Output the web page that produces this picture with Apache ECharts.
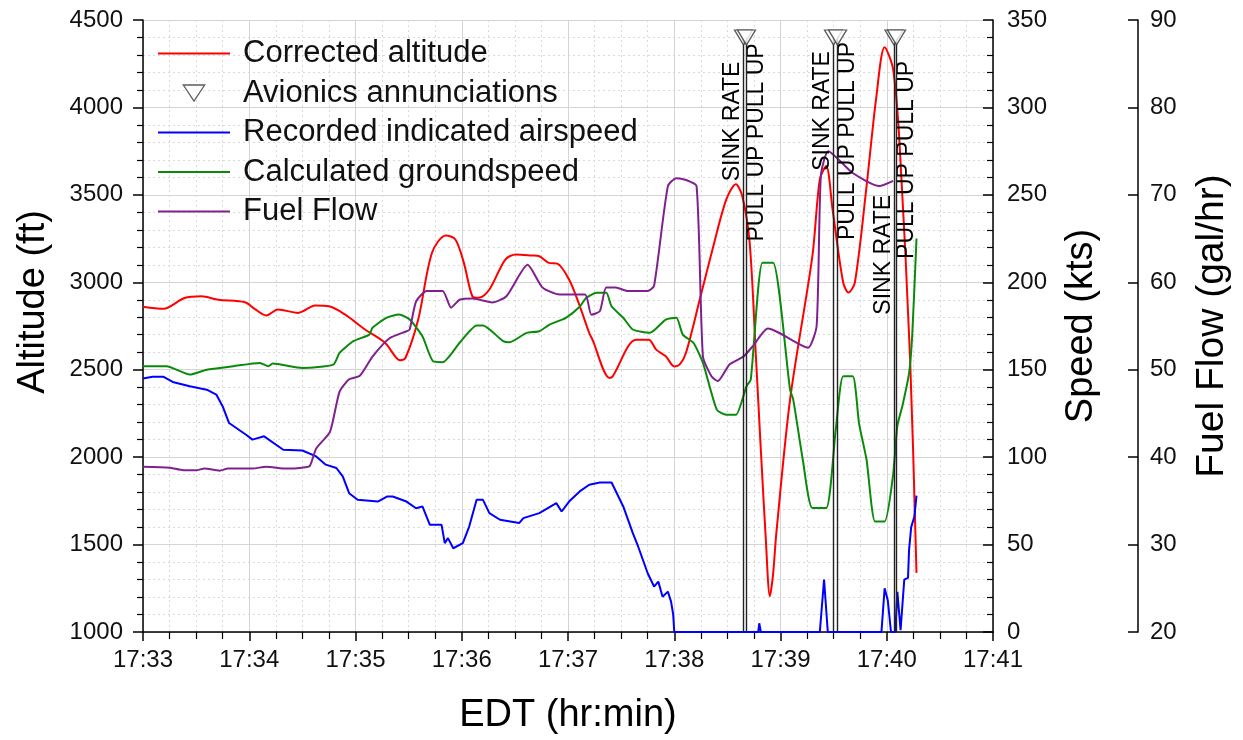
<!DOCTYPE html>
<html>
<head>
<meta charset="utf-8">
<title>Flight data</title>
<script src="https://cdn.jsdelivr.net/npm/echarts@6/dist/echarts.min.js"></script>
<style>
  html, body { margin: 0; padding: 0; background: #fff; }
  #chart { width: 1243px; height: 740px; }
</style>
</head>
<body>
<div id="chart"></div>
<script>
// all times are minutes after 17:00 EDT
// corrected altitude (ft)
const altTime = [33.00,33.19,33.39,33.55,33.71,33.96,34.05,34.16,34.27,34.46,34.62,34.75,34.90,35.09,35.28,35.42,35.47,35.59,35.72,35.85,35.94,36.02,36.10,36.16,36.26,36.41,36.51,36.66,36.73,36.82,36.90,37.01,37.10,37.20,37.23,37.39,37.42,37.64,37.76,37.83,37.92,38.00,38.05,38.11,38.24,38.36,38.49,38.58,38.64,38.71,38.77,38.79,38.82,38.86,38.90,38.93,38.96,39.09,39.30,39.37,39.43,39.49,39.59,39.64,39.70,39.81,39.90,39.98,40.06,40.12,40.22,40.28]
const altValue = [2860,2848,2910,2920,2900,2886,2848,2810,2845,2825,2867,2863,2816,2730,2653,2554,2567,2787,3169,3268,3245,3111,2920,2911,2959,3130,3159,3153,3149,3111,3107,3016,2882,2710,2672,2453,2462,2672,2672,2615,2577,2519,2529,2596,2901,3188,3474,3560,3493,3226,2558,2329,1985,1550,1205,1330,1560,2329,3150,3589,3665,3417,2999,2941,2999,3550,4050,4344,4218,3800,2558,1338]

// recorded indicated airspeed (kts)
const iasTime = [33.00,33.09,33.19,33.28,33.44,33.60,33.69,33.75,33.81,33.97,34.03,34.14,34.32,34.50,34.63,34.72,34.82,34.88,34.94,35.02,35.21,35.30,35.35,35.48,35.57,35.63,35.70,35.81,35.84,35.87,35.92,36.01,36.07,36.14,36.20,36.26,36.36,36.54,36.58,36.73,36.89,36.94,37.01,37.11,37.20,37.30,37.41,37.52,37.61,37.66,37.75,37.81,37.85,37.89,37.94,37.97,37.99,38.00,38.79,38.80,38.815,39.37,39.41,39.445,39.95,39.98,40.01,40.04,40.08,40.10,40.13,40.165,40.20,40.21,40.23,40.26,40.28]
const iasValue = [145,146,146,143,140.5,138.6,135.8,129,119.5,112.8,110,111.9,104.2,103.8,100.4,95.7,93.8,89,79.4,75.6,74.6,77.5,77.5,74.6,70.8,71.8,61.3,61.3,50.8,53.7,47.9,50.8,60.3,75.6,75.6,68,64.2,62.3,65.1,68,73.7,68.9,74.6,80.4,84.2,85.5,85.5,71.8,56.5,48.9,33.6,26,28.8,20.2,23.1,17.4,10,0,0,5,0,0,30,0,0,25,18,0,0,23,1,30,31,47,60,66,78]

// calculated groundspeed (kts)
const gsTime = [33.00,33.22,33.44,33.60,33.85,34.10,34.18,34.22,34.50,34.79,34.85,34.98,35.13,35.16,35.29,35.41,35.51,35.63,35.73,35.82,35.98,36.14,36.20,36.39,36.45,36.61,36.73,36.83,36.98,37.11,37.17,37.27,37.36,37.41,37.52,37.61,37.77,37.92,38.02,38.08,38.18,38.27,38.40,38.49,38.58,38.68,38.72,38.83,38.93,39.09,39.12,39.21,39.30,39.43,39.52,39.59,39.68,39.74,39.81,39.89,39.98,40.06,40.10,40.15,40.21,40.24,40.28]
const gsValue = [152,152,147.2,150,152,153.9,152,153.5,151,152.9,159.6,166.3,170.1,174,179.7,181.6,178.7,169.1,154.8,154.3,165.4,175.3,175.3,166.3,165.7,171.1,172,175.9,179.7,186,191,194,194,186.3,179.7,173,171.1,178.7,179.7,170.1,165.4,153.9,127.2,124.3,124.3,140.5,144.3,211.2,211.2,138.6,132.9,98.5,70.9,70.9,115.7,146.2,146.2,119,98.5,63.2,63.2,90,118,130,148,170,225]

// fuel flow (gal/hr)
const ffTime = [33.00,33.25,33.38,33.50,33.58,33.72,33.80,34.03,34.16,34.35,34.50,34.57,34.63,34.76,34.85,34.94,35.04,35.16,35.32,35.48,35.51,35.57,35.67,35.82,35.90,35.98,36.10,36.29,36.42,36.62,36.76,36.92,37.16,37.22,37.30,37.36,37.45,37.56,37.75,37.81,37.94,38.02,38.11,38.21,38.27,38.35,38.41,38.52,38.65,38.74,38.88,38.99,39.12,39.26,39.34,39.38,39.45,39.68,39.93,40.06]
const ffValue = [38.9,38.8,38.5,38.5,38.7,38.45,38.7,38.7,38.9,38.7,38.8,39.0,41.0,42.9,47.5,48.9,49.3,51.5,53.6,54.4,54.6,57.8,59.0,59.0,57.1,58.0,58.15,57.7,58.4,62.0,59.4,58.6,58.6,56.3,56.7,59.4,59.4,59.0,59.0,59.6,71.0,71.9,71.7,71.0,51.5,49.25,48.7,50.6,51.5,52.7,54.7,54.2,53.3,52.5,55.0,72.2,75.0,72.5,71.0,71.6]

// avionics annunciations
const annTime = [38.652, 38.680, 39.499, 39.537, 40.068, 40.092]
const annText = ['SINK RATE', 'PULL UP PULL UP', 'SINK RATE', 'PULL UP PULL UP', 'SINK RATE', 'PULL UP PULL UP']
const annLevel = 4400
// altitude at the middle of each annunciation text, and side of the line (-1 left, 1 right)
const annTextAlt = [3920, 3800, 3980, 3808, 3157, 3700]
const annSide = [-1, 1, -1, 1, -1, 1]

const xTicks = [33, 34, 35, 36, 37, 38, 39, 40, 41]

const font = "'Liberation Sans', Arial, sans-serif"
const zip = (a, b) => a.map((v, i) => [v, b[i]])
// legend icon: thin bar for lines, down triangle for annunciations
const lineIcon = 'path://M0,0H72V2H0Z'
const triIcon = 'path://M0,0L20,0L10,15Z'

let chart = echarts.init(document.getElementById('chart'))

const baseAxis = {
	axisLine: {show: true, onZero: false, lineStyle: {color: '#000', width: 1.5}},
	axisLabel: {fontSize: 24, color: '#111', fontFamily: font, formatter: v => String(v)},
	nameLocation: 'middle',
	nameTextStyle: {fontSize: 38, color: '#000', fontFamily: font}
}

const option = {
	animation: false,
	backgroundColor: '#fff',
	textStyle: {fontFamily: font},
	grid: {left: 143, right: 250, top: 20, bottom: 108},
	legend: {
		orient: 'vertical',
		left: 158,
		top: 38,
		padding: 0,
		itemWidth: 72,
		itemHeight: 16,
		itemGap: 8.5,
		selectedMode: false,
		textStyle: {fontSize: 31, color: '#111', fontFamily: font, padding: [0, 0, 0, 8]},
		data: [
			{name: 'Corrected altitude', icon: lineIcon},
			{name: 'Avionics annunciations', icon: triIcon, itemStyle: {color: '#fff', borderColor: '#333', borderWidth: 1.3}},
			{name: 'Recorded indicated airspeed', icon: lineIcon},
			{name: 'Calculated groundspeed', icon: lineIcon},
			{name: 'Fuel Flow', icon: lineIcon}
		]
	},
	xAxis: Object.assign({}, baseAxis, {
		type: 'value',
		min: xTicks[0],
		max: xTicks[xTicks.length - 1],
		interval: 1,
		axisTick: {show: true, length: 9, lineStyle: {color: '#000', width: 1.5}},
		minorTick: {show: true, splitNumber: 4, length: 7, lineStyle: {color: '#000', width: 1.2}},
		axisLabel: Object.assign({}, baseAxis.axisLabel, {margin: 16, formatter: v => '17:' + v}),
		splitLine: {show: true, lineStyle: {color: '#d4d4d4', width: 1}},
		minorSplitLine: {show: true, lineStyle: {color: '#dadada', width: 1, type: [2, 3]}},
		name: 'EDT (hr:min)',
		nameGap: 65,
		nameTextStyle: {fontSize: 38, color: '#000', fontFamily: font}
	}),
	yAxis: [
		Object.assign({}, baseAxis, {
			type: 'value',
			position: 'left',
			min: 1000,
			max: 4500,
			interval: 500,
			axisTick: {show: true, length: 10, lineStyle: {color: '#000', width: 1.5}},
			minorTick: {show: true, splitNumber: 5, length: 6, lineStyle: {color: '#000', width: 1.2}},
			axisLabel: Object.assign({}, baseAxis.axisLabel, {margin: 20}),
			splitLine: {show: true, lineStyle: {color: '#d4d4d4', width: 1}},
			minorSplitLine: {show: true, lineStyle: {color: '#dadada', width: 1, type: [2, 3]}},
			name: 'Altitude (ft)',
			nameGap: 90,
			nameTextStyle: {fontSize: 38, color: '#000', fontFamily: font, padding: [0, 0, 0, 48]}
		}),
		Object.assign({}, baseAxis, {
			type: 'value',
			position: 'right',
			min: 0,
			max: 350,
			interval: 50,
			axisTick: {show: true, inside: true, length: 10, lineStyle: {color: '#000', width: 1.5}},
			minorTick: {show: true, splitNumber: 5, length: 6, lineStyle: {color: '#000', width: 1.2}},
			axisLabel: Object.assign({}, baseAxis.axisLabel, {margin: 14}),
			splitLine: {show: false},
			name: 'Speed (kts)',
			nameGap: 70
		}),
		Object.assign({}, baseAxis, {
			type: 'value',
			position: 'right',
			offset: 145,
			min: 20,
			max: 90,
			interval: 10,
			axisTick: {show: true, inside: true, length: 10, lineStyle: {color: '#000', width: 1.5}},
			axisLabel: Object.assign({}, baseAxis.axisLabel, {margin: 12}),
			splitLine: {show: false},
			name: 'Fuel Flow (gal/hr)',
			nameGap: 55,
			nameTextStyle: {fontSize: 39, color: '#000', fontFamily: font}
		})
	],
	series: [
		{
			name: 'Corrected altitude',
			type: 'line',
			yAxisIndex: 0,
			data: zip(altTime, altValue),
			symbol: 'none',
			smooth: 0.3,
			lineStyle: {color: '#ff0000', width: 2},
			itemStyle: {color: '#ff0000'},
			z: 3
		},
		{
			// annunciation text + vertical lines
			name: 'annLabels',
			type: 'scatter',
			yAxisIndex: 0,
			silent: true,
			symbolSize: 0.5,
			itemStyle: {color: '#fff', opacity: 1},
			data: annTime.map((t, i) => ({
				value: [t, annTextAlt[i]],
				// offset turns with the text, so its 2nd value is the sideways shift
				label: {offset: [0, annSide[i] * 10.5]}
			})),
			label: {
				show: true,
				position: 'inside',
				rotate: 90,
				align: 'center',
				verticalAlign: 'middle',
				fontSize: 23,
				color: '#000',
				opacity: 1,
				textBorderWidth: 0,
				fontFamily: font,
				formatter: p => annText[p.dataIndex]
			},
			markLine: {
				silent: true,
				symbol: 'none',
				label: {show: false},
				lineStyle: {color: '#222', width: 1.4, type: 'solid'},
				data: annTime.map(t => [{coord: [t, 1000]}, {coord: [t, annLevel]}])
			},
			z: 4
		},
		{
			name: 'Avionics annunciations',
			type: 'scatter',
			yAxisIndex: 0,
			data: annTime.map(t => [t, annLevel]),
			symbol: 'triangle',
			symbolRotate: 180,
			symbolSize: [18, 15],
			itemStyle: {color: '#fff', borderColor: '#333', borderWidth: 1.3},
			z: 6
		},
		{
			name: 'Recorded indicated airspeed',
			type: 'line',
			yAxisIndex: 1,
			data: zip(iasTime, iasValue),
			symbol: 'none',
			lineStyle: {color: '#0000ff', width: 2},
			itemStyle: {color: '#0000ff'},
			z: 3
		},
		{
			name: 'Calculated groundspeed',
			type: 'line',
			yAxisIndex: 1,
			data: zip(gsTime, gsValue),
			symbol: 'none',
			smooth: 0.2,
			lineStyle: {color: '#0a8a0a', width: 2},
			itemStyle: {color: '#0a8a0a'},
			z: 3
		},
		{
			name: 'Fuel Flow',
			type: 'line',
			yAxisIndex: 2,
			data: zip(ffTime, ffValue),
			symbol: 'none',
			smooth: 0.2,
			lineStyle: {color: '#80208f', width: 2},
			itemStyle: {color: '#80208f'},
			z: 3
		}
	]
}

chart.setOption(option)
</script>
</body>
</html>
